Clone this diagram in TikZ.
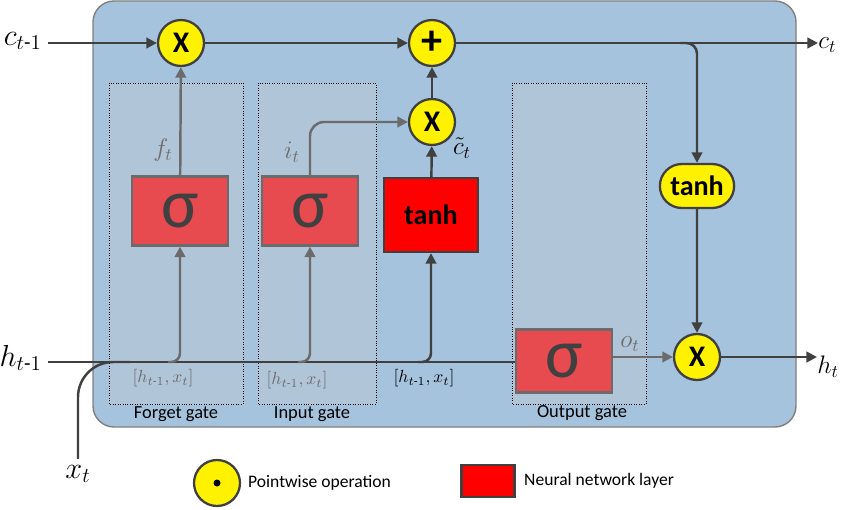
\documentclass[tikz,border=0pt]{standalone}
\usepackage{amsmath}
\usepackage{fontspec}
\setmainfont{Carlito}
\usetikzlibrary{arrows.meta,positioning,calc,shapes.misc}
\definecolor{cellblue}{HTML}{A5C3DD}
\definecolor{gateblue}{HTML}{B1C5D9}
\definecolor{sigred}{HTML}{E84B4F}
\definecolor{linegray}{HTML}{404040}
\definecolor{softgray}{HTML}{6B6B6B}

\begin{document}
\begin{tikzpicture}[x=0.02cm,y=-0.02cm,>={Triangle[length=6pt,width=6pt]},
  arr/.style={->,draw=linegray,line width=1.4pt},
  garr/.style={->,draw=softgray,line width=1.4pt},
  op/.style={circle,draw=linegray,line width=1.3pt,fill=yellow,minimum size=0.92cm,inner sep=0pt,font=\fontsize{17}{17}\selectfont\bfseries},
  sig/.style={draw=softgray,line width=1.3pt,fill=sigred,minimum width=1.92cm,minimum height=1.38cm,font=\fontsize{40}{40}\selectfont,text=linegray},
  gatebox/.style={draw=black,densely dotted,fill=gateblue},
  var/.style={font=\LARGE},
  ovar/.style={font=\Large,inner sep=0pt,anchor=west},
  gvar/.style={font=\Large,text=softgray},
  cat/.style={font=\normalsize},
  gname/.style={font=\fontsize{10.5}{12}\selectfont},
  legtext/.style={anchor=west,font=\fontsize{10}{12}\selectfont}]
\useasboundingbox (0,0) rectangle (841,510);
% cell body and gate areas
\draw[draw=gray,line width=0.8pt,fill=cellblue,rounded corners=12] (93,1) rectangle (796,427);
\draw[gatebox] (109,83) rectangle (243,404);
\draw[gatebox] (258,83) rectangle (376,404);
\draw[gatebox] (512,83) rectangle (646,404);
\node[gname] (fgname) at (176,414) {Forget gate};
\node[gname] (igname) at (312,414) {Input gate};
\node[gname] (ogname) at (582,413) {Output gate};
% operations and layers
\node[op] (fx) at (181,43) {X};
\node[op] (plus) at (432,43) {\fontsize{24}{24}\selectfont +};
\node[op] (ix) at (432,122) {X};
\node[op] (hx) at (697,357) {X};
\node[sig] (fs) at (180,211) {σ};
\node[sig] (is) at (310,211) {σ};
\node[draw=linegray,line width=1.3pt,fill=red,minimum width=1.88cm,minimum height=1.48cm,font=\fontsize{16}{16}\selectfont\bfseries] (tb) at (431,215) {tanh};
\node[sig,minimum height=1.26cm] (os) at (564,361) {σ};
\node[draw=linegray,line width=1.3pt,fill=yellow,rounded rectangle,minimum width=1.72cm,minimum height=0.88cm,font=\fontsize{16}{16}\selectfont\bfseries] (tnh) at (697,186) {tanh};
% inputs and outputs
\node[var,anchor=east] (cin) at (48,41) {$c_{t\text{-}1}$};
\node[ovar] (cout) at (818,45) {$c_t$};
\node[var,anchor=east] (hin) at (48,358) {$h_{t\text{-}1}$};
\node[ovar] (hout) at (817,367) {$h_t$};
\node[var] (xin) at (78,474) {$x_t$};
\coordinate (br) at (680,43);
\coordinate (xj) at (130,362);
\coordinate (fj) at (168,362);
\coordinate (ij) at (298,362);
\coordinate (tj) at (418,362);
% connectors
\draw[arr] (cin.east |- fx) -- (fx);
\draw[arr] (fx) -- (plus);
\draw[arr] (plus) -- (cout.west |- plus);
\draw[arr,rounded corners=6] (br) -| (tnh.north);
\draw[arr] (tnh) -- (hx);
\draw[arr] (hx) -- (hx -| hout.west);
\draw[draw=linegray,line width=1.4pt] (hin.east |- 0,362) -- (os.west |- 0,362);
\draw[draw=linegray,line width=1.4pt,rounded corners=20] (xin.north) |- (xj);
\draw[garr,rounded corners=5] (fj) -| (fs.south);
\draw[garr] (fs) -- (fx);
\draw[garr,rounded corners=5] (ij) -| (is.south);
\draw[garr,rounded corners=8] (is.north) |- (ix);
\draw[arr,rounded corners=5] (tj) -| (tb.south);
\draw[arr] (tb) -- (ix);
\draw[arr] (ix) -- (plus);
\draw[garr] (os.east |- hx) -- (hx);
% labels
\node[gvar] (ft) at (163,150) {$f_t$};
\node[gvar] (it) at (292,152) {$i_t$};
\node[font=\Large] (ct) at (462,148) {$\tilde{c}_t$};
\node[gvar] (ot) at (630,344) {$o_t$};
\node[cat,text=softgray] (fcat) at (163,378) {$[h_{t\text{-}1},x_t]$};
\node[cat,text=softgray] (icat) at (297,380) {$[h_{t\text{-}1},x_t]$};
\node[cat] (tcat) at (424,378) {$[h_{t\text{-}1},x_t]$};
% legend
\node[op] (lop) at (217,483) {};
\fill (lop) circle (3.5);
\node[legtext] (lopt) at (242,483) {Pointwise operation};
\node[draw=linegray,line width=1.6pt,fill=red,minimum width=1.06cm,minimum height=0.64cm] (lnn) at (488,481) {};
\node[legtext] (lnnt) at (518,481) {Neural network layer};
\end{tikzpicture}
\end{document}
